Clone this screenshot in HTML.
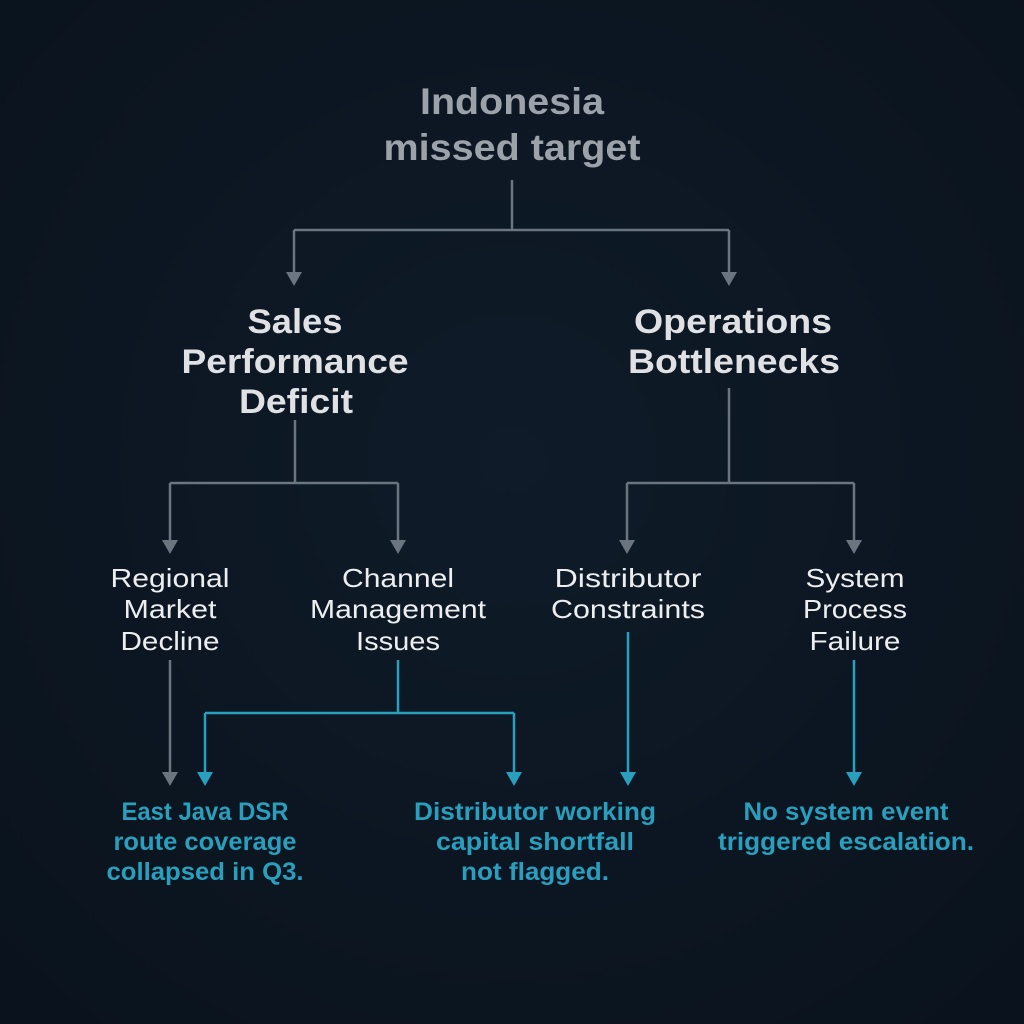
<!DOCTYPE html>
<html><head><meta charset="utf-8"><style>
html,body{margin:0;padding:0;background:#0c1622;}
svg{display:block}
text{font-family:"Liberation Sans",sans-serif;text-anchor:middle}
.t{fill:#9ca2a9;font-size:37px;font-weight:bold}
.m{fill:#dfe1e4;font-size:34px;font-weight:bold}
.s{fill:#eceef0;font-size:26px}
.l{fill:#2a9fbd;font-size:25px;font-weight:bold}
</style></head><body>
<svg width="1024" height="1024" viewBox="0 0 1024 1024">
<defs>
<radialGradient id="bg" cx="50%" cy="45%" r="70%"><stop offset="0" stop-color="#0f1b29"/><stop offset="1" stop-color="#0a131d"/></radialGradient>
</defs>
<rect width="1024" height="1024" fill="url(#bg)"/>
<g stroke="#6b7580" stroke-width="2.5" fill="none">
<path d="M512 180V230M294 230H729M294 230V272M729 230V272"/>
<path d="M295 420V483M170 483H398M170 483V540M398 483V540"/>
<path d="M729 388V483M627 483H854M627 483V540M854 483V540"/>
<path d="M170 660V772"/>
</g>
<g fill="#6b7580">
<path d="M286 272h16l-8 14z"/><path d="M721 272h16l-8 14z"/>
<path d="M162 540h16l-8 14z"/><path d="M390 540h16l-8 14z"/>
<path d="M619 540h16l-8 14z"/><path d="M846 540h16l-8 14z"/>
<path d="M162 772h16l-8 14z"/>
</g>
<g stroke="#2a9fbd" stroke-width="2.5" fill="none">
<path d="M398 660V713M205 713H514M205 713V772M514 713V772"/>
<path d="M628 632V772M854 660V772"/>
</g>
<g fill="#2a9fbd">
<path d="M197 772h16l-8 14z"/><path d="M506 772h16l-8 14z"/>
<path d="M620 772h16l-8 14z"/><path d="M846 772h16l-8 14z"/>
</g>
<text class="t" x="512" y="114" textLength="184" lengthAdjust="spacingAndGlyphs">Indonesia</text>
<text class="t" x="512" y="160" textLength="257" lengthAdjust="spacingAndGlyphs">missed target</text>
<text class="m" x="295" y="333" textLength="95" lengthAdjust="spacingAndGlyphs">Sales</text>
<text class="m" x="295" y="373" textLength="227" lengthAdjust="spacingAndGlyphs">Performance</text>
<text class="m" x="296" y="413" textLength="114" lengthAdjust="spacingAndGlyphs">Deficit</text>
<text class="m" x="733" y="333" textLength="198" lengthAdjust="spacingAndGlyphs">Operations</text>
<text class="m" x="734" y="373" textLength="212" lengthAdjust="spacingAndGlyphs">Bottlenecks</text>
<text class="s" x="170" y="587" textLength="119" lengthAdjust="spacingAndGlyphs">Regional</text>
<text class="s" x="170" y="618" textLength="93" lengthAdjust="spacingAndGlyphs">Market</text>
<text class="s" x="170" y="650" textLength="99" lengthAdjust="spacingAndGlyphs">Decline</text>
<text class="s" x="398" y="587" textLength="112" lengthAdjust="spacingAndGlyphs">Channel</text>
<text class="s" x="398" y="618" textLength="176" lengthAdjust="spacingAndGlyphs">Management</text>
<text class="s" x="398" y="650" textLength="84" lengthAdjust="spacingAndGlyphs">Issues</text>
<text class="s" x="628" y="587" textLength="147" lengthAdjust="spacingAndGlyphs">Distributor</text>
<text class="s" x="628" y="618" textLength="154" lengthAdjust="spacingAndGlyphs">Constraints</text>
<text class="s" x="855" y="587" textLength="99" lengthAdjust="spacingAndGlyphs">System</text>
<text class="s" x="855" y="618" textLength="104" lengthAdjust="spacingAndGlyphs">Process</text>
<text class="s" x="855" y="650" textLength="91" lengthAdjust="spacingAndGlyphs">Failure</text>
<text class="l" x="205" y="820" textLength="167" lengthAdjust="spacingAndGlyphs">East Java DSR</text>
<text class="l" x="205" y="850" textLength="183" lengthAdjust="spacingAndGlyphs">route coverage</text>
<text class="l" x="205" y="880" textLength="197" lengthAdjust="spacingAndGlyphs">collapsed in Q3.</text>
<text class="l" x="535" y="820" textLength="242" lengthAdjust="spacingAndGlyphs">Distributor working</text>
<text class="l" x="535" y="850" textLength="198" lengthAdjust="spacingAndGlyphs">capital shortfall</text>
<text class="l" x="535" y="880" textLength="148" lengthAdjust="spacingAndGlyphs">not flagged.</text>
<text class="l" x="846" y="820" textLength="205" lengthAdjust="spacingAndGlyphs">No system event</text>
<text class="l" x="846" y="850" textLength="256" lengthAdjust="spacingAndGlyphs">triggered escalation.</text>
</svg>
</body></html>
